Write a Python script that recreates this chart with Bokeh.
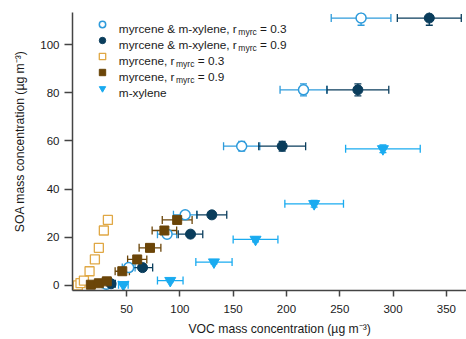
import math
from bokeh.plotting import figure
from bokeh.models import (Range1d, FixedTicker, Whisker, TeeHead, ColumnDataSource,
                          Legend, LegendItem, Label)
from bokeh.embed import file_html
from bokeh.resources import INLINE

# ---------------- data ----------------
s1_x = [31.0, 52.0, 88.0, 105.0, 158.0, 216.0, 270.0]
s1_y = [0.5, 7.4, 21.3, 29.3, 57.8, 81.2, 111.0]
s1_xerr = [4.0, 6.0, 9.0, 11.0, 17.0, 22.0, 28.0]
s1_yerr = [0.5, 0.8, 1.0, 1.2, 2.0, 2.5, 3.0]

s2_x = [35.5, 65.0, 110.0, 130.0, 196.0, 267.0, 334.0]
s2_y = [0.7, 7.4, 21.3, 29.3, 57.8, 81.2, 111.0]
s2_xerr = [4.0, 9.5, 11.5, 14.0, 22.0, 29.0, 30.0]
s2_yerr = [0.5, 0.8, 1.0, 1.2, 2.0, 2.5, 3.0]

s3_x = [4.3, 6.8, 10.0, 15.3, 20.3, 24.0, 28.7, 32.5]
s3_y = [0.0, 1.0, 2.0, 5.9, 10.8, 15.6, 22.8, 27.2]

s4_x = [16.5, 24.0, 31.5, 46.0, 60.0, 72.0, 85.5, 97.5]
s4_y = [0.3, 0.9, 1.7, 5.9, 10.8, 15.6, 22.8, 27.2]
s4_xerr = [2.0, 3.0, 4.0, 6.7, 9.0, 10.2, 11.5, 14.0]

s5_x = [47.0, 91.0, 132.0, 171.0, 226.0, 290.5]
s5_y = [0.3, 2.0, 9.7, 19.1, 33.9, 56.7]
s5_xerr = [4.5, 12.0, 17.0, 21.0, 27.5, 35.0]
s5_yerr = [0.4, 0.5, 0.7, 1.0, 1.4, 1.6]

x_ticks = [50, 100, 150, 200, 250, 300, 350]
y_ticks = [0, 20, 40, 60, 80, 100]

leg_main = ["myrcene & m-xylene, r", "myrcene & m-xylene, r", "myrcene, r", "myrcene, r", "m-xylene"]
leg_sub = ["myrc", "myrc", "myrc", "myrc", ""]
leg_tail = ["= 0.3", "= 0.9", "= 0.3", "= 0.9", ""]

x_title = "VOC mass concentration (\u00b5g m\u207b\u00b3)"
y_title = "SOA mass concentration (\u00b5g m\u207b\u00b3)"

# ---------------- styles ----------------
C1 = "#2E9BDB"
C2 = "#0A3D5C"
C3 = "#E0A845"
C4 = "#6B4508"
C5 = "#1AABF0"
FONT = "Liberation Sans"
TXT = "#1a1a1a"
AX = "#444444"
NB = "\u00a0"

# Arial/Liberation Sans advance widths (per 1000 em)
W = {' ': 278, '&': 667, ',': 278, '-': 333, '.': 278, '=': 584, '(': 333, ')': 333,
     'a': 556, 'c': 500, 'e': 556, 'g': 556, 'i': 222, 'l': 222, 'm': 833,
     'n': 556, 'o': 556, 'r': 333, 's': 500, 't': 278, 'x': 500, 'y': 500}
for d in "0123456789":
    W[d] = 556


def tw(s, fs):
    return sum(W.get(c, 556) for c in s) / 1000.0 * fs


p = figure(width=466, height=339, output_backend="svg", toolbar_location=None,
           x_range=Range1d(-0.7, 368.9), y_range=Range1d(-2.1, 113.3),
           min_border_left=72, min_border_right=0, min_border_top=12, min_border_bottom=49)
p.outline_line_color = None
p.xgrid.visible = False
p.ygrid.visible = False
p.background_fill_color = "white"

for ax in (p.xaxis, p.yaxis):
    ax.axis_line_color = AX
    ax.axis_line_width = 1.5
    ax.major_tick_line_color = AX
    ax.major_tick_line_width = 1.5
    ax.major_tick_in = 0
    ax.minor_tick_line_color = None
    ax.major_label_text_font = FONT
    ax.major_label_text_font_size = "11.5px"
    ax.major_label_text_color = TXT
    ax.axis_label_text_font = FONT
    ax.axis_label_text_font_size = "12.2px"
    ax.axis_label_text_font_style = "normal"
    ax.axis_label_text_color = TXT
p.xaxis.ticker = FixedTicker(ticks=x_ticks)
p.yaxis.ticker = FixedTicker(ticks=y_ticks)
p.xaxis.major_tick_out = 6
p.yaxis.major_tick_out = 8
p.xaxis.major_label_standoff = 8
p.yaxis.major_label_standoff = 5
p.xaxis.axis_label = NB * 6 + x_title
p.yaxis.axis_label = NB * 6 + y_title
p.xaxis.axis_label_standoff = 6
p.yaxis.axis_label_standoff = 10


def add_series(x, y, xerr, yerr, color, marker, fill, size, lw):
    data = dict(x=x, y=y)
    if xerr:
        data["xl"] = [a - b for a, b in zip(x, xerr)]
        data["xu"] = [a + b for a, b in zip(x, xerr)]
    if yerr:
        data["yl"] = [a - b for a, b in zip(y, yerr)]
        data["yu"] = [a + b for a, b in zip(y, yerr)]
    src = ColumnDataSource(data)
    if xerr:
        p.add_layout(Whisker(source=src, base="y", lower="xl", upper="xu", dimension="width",
                             line_color=color, line_width=1.3,
                             lower_head=TeeHead(size=8, line_color=color, line_width=1.3),
                             upper_head=TeeHead(size=8, line_color=color, line_width=1.3)))
    if yerr:
        p.add_layout(Whisker(source=src, base="x", lower="yl", upper="yu", dimension="height",
                             line_color=color, line_width=1.3,
                             lower_head=TeeHead(size=7, line_color=color, line_width=1.3),
                             upper_head=TeeHead(size=7, line_color=color, line_width=1.3)))
    return p.scatter("x", "y", source=src, marker=marker, size=size, fill_color=fill,
                     line_color=color, line_width=lw)


r1 = add_series(s1_x, s1_y, s1_xerr, s1_yerr, C1, "circle", "white", 10, 1.5)
r2 = add_series(s2_x, s2_y, s2_xerr, s2_yerr, C2, "circle", C2, 10, 1)
r3 = add_series(s3_x, s3_y, None, None, C3, "square", "white", 9, 1.3)
r4 = add_series(s4_x, s4_y, s4_xerr, None, C4, "square", C4, 9, 1)
r5 = add_series(s5_x, s5_y, s5_xerr, s5_yerr, C5, "inverted_triangle", C5, 11, 1)

legend = Legend(items=[LegendItem(label=" ", renderers=[r]) for r in (r1, r2, r3, r4, r5)],
                location=(22, 194), orientation="vertical", padding=0, margin=0, spacing=0,
                glyph_height=16, glyph_width=16, label_height=16, label_width=0,
                label_standoff=0, label_text_font_size="1px",
                border_line_alpha=0, background_fill_alpha=0)
p.add_layout(legend)

# legend texts (frame-relative screen coords)
LFS, SFS = 11.8, 8.5
lx = 46.3
for i, (m, s, t) in enumerate(zip(leg_main, leg_sub, leg_tail)):
    by = 262 - 16 * i
    p.add_layout(Label(x=lx, y=by, x_units="screen", y_units="screen", text=m,
                       text_font=FONT, text_font_size=f"{LFS}px", text_color=TXT,
                       text_align="left", text_baseline="alphabetic"))
    if s:
        sx = lx + tw(m, LFS) + 1.5
        p.add_layout(Label(x=sx, y=by - 3, x_units="screen", y_units="screen", text=s,
                           text_font=FONT, text_font_size=f"{SFS}px", text_color=TXT,
                           text_align="left", text_baseline="alphabetic"))
        tx = sx + tw(s, SFS) + tw(" ", LFS)
        p.add_layout(Label(x=tx, y=by, x_units="screen", y_units="screen", text=t,
                           text_font=FONT, text_font_size=f"{LFS}px", text_color=TXT,
                           text_align="left", text_baseline="alphabetic"))

open("out.html", "w").write(file_html(p, INLINE))
